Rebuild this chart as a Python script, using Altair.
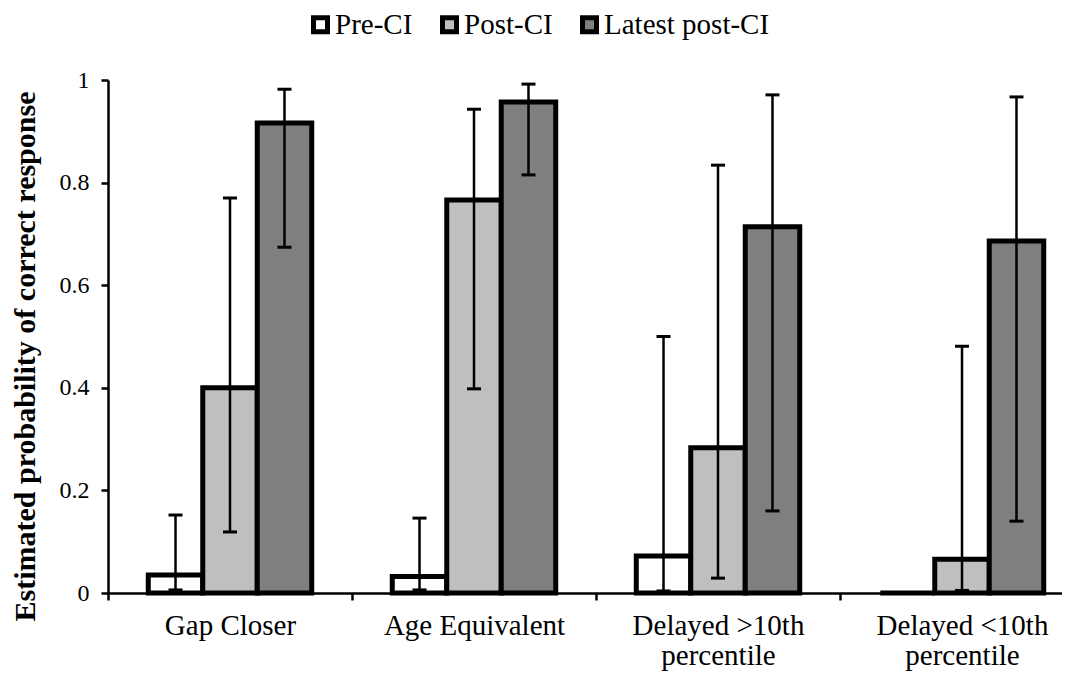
import altair as alt
import pandas as pd

categories = ["Gap Closer", "Age Equivalent", "Delayed >10th percentile", "Delayed <10th percentile"]
series = ["Pre-CI", "Post-CI", "Latest post-CI"]

pre_ci = [0.035, 0.032, 0.072, 0.0]
post_ci = [0.400, 0.766, 0.283, 0.066]
latest_ci = [0.916, 0.957, 0.714, 0.686]

pre_lo = [0.006, 0.006, 0.004, 0.0]
pre_hi = [0.152, 0.146, 0.500, 0.0]
post_lo = [0.119, 0.398, 0.029, 0.005]
post_hi = [0.770, 0.943, 0.834, 0.481]
latest_lo = [0.674, 0.815, 0.160, 0.140]
latest_hi = [0.982, 0.992, 0.971, 0.967]

fill_colors = ["#ffffff", "#bfbfbf", "#7f7f7f"]
y_ticks = [0, 0.2, 0.4, 0.6, 0.8, 1]

rows = []
for s, vals, los, his in [
    ("Pre-CI", pre_ci, pre_lo, pre_hi),
    ("Post-CI", post_ci, post_lo, post_hi),
    ("Latest post-CI", latest_ci, latest_lo, latest_hi),
]:
    for c, v, lo, hi in zip(categories, vals, los, his):
        rows.append({"category": c, "series": s, "value": v, "lo": lo, "hi": hi})
df = pd.DataFrame(rows)

FONT = "Liberation Serif"

x_enc = alt.X(
    "category:N",
    sort=categories,
    scale=alt.Scale(range=[0, 976], paddingInner=0, paddingOuter=0),
    axis=alt.Axis(
        title=None,
        labelAngle=0,
        tickBand="extent",
        labelExpr="indexof(datum.label, ' percentile') > 0 ? [replace(datum.label, ' percentile', ''), 'percentile'] : datum.label",
        labelFont=FONT,
        labelFontSize=29,
        labelColor="black",
        labelBaseline="top",
        labelPadding=11,
        labelLineHeight=30,
        labelLimit=400,
        tickSize=7,
        domainColor="black",
        domainWidth=2.5,
        tickColor="black",
        tickWidth=2.5,
        grid=False,
    ),
)
xoff_enc = alt.XOffset(
    "series:N", sort=series, scale=alt.Scale(paddingInner=0, paddingOuter=0.739)
)
y_scale = alt.Scale(domain=[0, 1], nice=False)

bars = alt.Chart(df).mark_bar(stroke="black", strokeWidth=5, opacity=1).encode(
    x=x_enc,
    xOffset=xoff_enc,
    y=alt.Y(
        "value:Q",
        scale=y_scale,
        axis=alt.Axis(
            values=y_ticks,
            format=".1~f",
            title="Estimated probability of correct response",
            titleFont=FONT,
            titleFontSize=30,
            titleFontWeight="bold",
            titleColor="black",
            titleAnchor="middle",
            titleBaseline="alphabetic",
            titleX=-74,
            titleY=276,
            labelFont=FONT,
            labelFontSize=24,
            labelColor="black",
            labelPadding=12,
            tickSize=7,
            domainColor="black",
            domainWidth=2.5,
            tickColor="black",
            tickWidth=2.5,
            grid=False,
        ),
    ),
    color=alt.Color(
        "series:N",
        sort=series,
        scale=alt.Scale(domain=series, range=fill_colors),
        legend=alt.Legend(
            title=None,
            orient="none",
            legendX=198,
            legendY=-70,
            direction="horizontal",
            symbolType="square",
            symbolSize=196,
            symbolStrokeColor="black",
            symbolStrokeWidth=5,
            symbolOpacity=1,
            labelFont=FONT,
            labelFontSize=29,
            labelColor="black",
            labelOffset=0,
            labelLimit=400,
            columnPadding=19,
            padding=0,
        ),
    ),
)

rules = alt.Chart(df).mark_rule(color="black", strokeWidth=2.5).encode(
    x=x_enc, xOffset=xoff_enc, y=alt.Y("lo:Q", scale=y_scale), y2="hi:Q"
)
caps_lo = alt.Chart(df).mark_tick(color="black", thickness=3, size=14, opacity=1).encode(
    x=x_enc, xOffset=xoff_enc, y=alt.Y("lo:Q", scale=y_scale)
)
caps_hi = alt.Chart(df).mark_tick(color="black", thickness=3, size=14, opacity=1).encode(
    x=x_enc, xOffset=xoff_enc, y=alt.Y("hi:Q", scale=y_scale)
)

chart = (
    alt.layer(bars, rules, caps_lo, caps_hi)
    .properties(
        width=954,
        height=513,
        autosize=alt.AutoSizeParams(type="none"),
        padding={"left": 100, "top": 72, "right": 0, "bottom": 90},
        background="white",
    )
    .configure(font=FONT)
    .configure_axis(labelFont=FONT, titleFont=FONT)
    .configure_legend(labelFont=FONT)
    .configure_view(strokeWidth=0)
)

chart.save("out.html", embed_options={"renderer": "svg", "actions": False})
